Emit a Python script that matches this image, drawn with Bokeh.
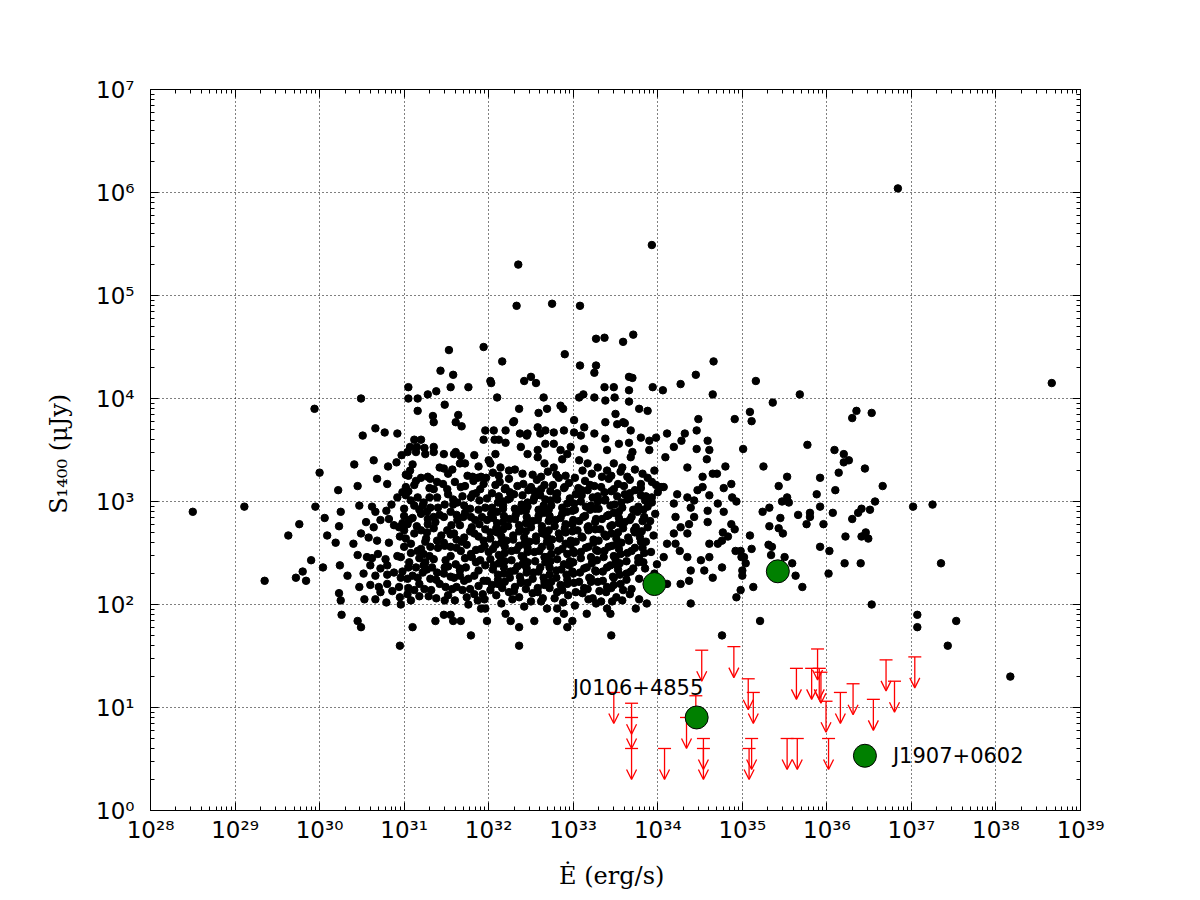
from bokeh.plotting import figure
from bokeh.models import Range1d, LogAxis, FixedTicker, CustomJSTickFormatter
from bokeh.models import ColumnDataSource, Arrow, OpenHead
from bokeh.core.properties import value
from bokeh.embed import file_html
from bokeh.resources import INLINE

# catalogue pulsars as (log10 Edot [erg/s], log10 S1400 [uJy])
left_wing = [
    (28.50, 2.90), (29.11, 2.95), (29.35, 2.23), (29.63, 2.67), (29.76, 2.78), (29.72, 2.26),
    (29.80, 2.32), (29.84, 2.23), (29.90, 2.43), (29.94, 3.90), (30.00, 3.28), (29.95, 2.95),
    (30.04, 2.36), (30.06, 2.84), (30.09, 2.67), (30.19, 2.60), (30.22, 3.11), (30.23, 2.76),
    (30.25, 2.90), (30.24, 2.38), (30.23, 2.11), (30.25, 2.04), (30.26, 1.90), (30.33, 2.28),
    (30.40, 2.59), (30.41, 3.36), (30.45, 3.15), (30.47, 2.96), (30.49, 4.00), (30.51, 3.64),
    (30.45, 1.84), (30.49, 1.78), (30.47, 2.17), (30.53, 2.05), (30.64, 3.40), (30.66, 3.71),
    (30.77, 3.67), (30.92, 3.66), (30.81, 3.34), (30.91, 3.38), (30.68, 3.22), (30.80, 3.17),
    (30.66, 2.90), (30.79, 2.91), (30.82, 2.83), (30.64, 2.75), (30.49, 2.69), (30.58, 2.65),
    (30.45, 2.48), (30.56, 2.46), (30.69, 2.49), (30.60, 2.38), (30.72, 2.35), (30.66, 2.28),
    (30.80, 2.38), (30.88, 2.31), (30.60, 2.19), (30.70, 2.17), (30.80, 2.20), (30.94, 2.17),
    (30.66, 2.05), (30.79, 2.02), (30.96, 2.00), (30.95, 1.60), (31.10, 1.78), (31.37, 1.84),
    (31.08, 2.04), (31.18, 2.08), (31.05, 4.11), (31.05, 4.00), (31.16, 4.00), (31.28, 4.04),
    (31.38, 4.07), (31.16, 3.88), (31.34, 3.83), (31.35, 3.77), (31.12, 3.60), (31.20, 3.60),
    (31.07, 3.53), (31.15, 3.53), (31.24, 3.52), (31.35, 3.53), (30.97, 3.45), (31.07, 3.30),
    (31.05, 3.25), (31.14, 3.20), (31.20, 3.23), (31.31, 3.22), (31.39, 3.19), (31.02, 3.14),
    (30.98, 3.09), (30.92, 3.04), (31.08, 3.01), (31.16, 3.04), (31.23, 2.99), (31.31, 2.94),
    (31.39, 3.04), (31.20, 2.88), (31.27, 2.90), (31.35, 2.85), (30.88, 2.77), (30.94, 2.75),
    (31.00, 2.72), (31.04, 2.78), (31.12, 2.69), (31.20, 2.72), (31.08, 2.59), (31.16, 2.52),
    (31.23, 2.49), (31.31, 2.56), (31.39, 2.62), (31.06, 2.41), (31.14, 2.36), (31.25, 2.41),
    (31.33, 2.36), (31.39, 2.31), (31.04, 2.25), (31.16, 2.26), (31.31, 2.25), (31.18, 2.20),
    (31.29, 2.08), (30.95, 2.07), (31.04, 2.10), (30.62, 2.95), (30.85, 2.97), (31.00, 2.93),
    (31.22, 2.96), (30.55, 2.80), (30.72, 2.82), (30.98, 2.79), (31.10, 2.84), (31.28, 2.78),
    (30.68, 2.62), (30.82, 2.60), (31.02, 2.64), (31.25, 2.61), (30.62, 2.45), (30.78, 2.44),
    (30.92, 2.47), (31.18, 2.45), (31.30, 2.47), (30.52, 2.30), (30.80, 2.29), (30.98, 2.32),
    (31.22, 2.31), (30.72, 2.12), (30.86, 2.13), (31.12, 2.14), (31.24, 2.15),
]

upper_cloud = [
    (31.55, 4.11), (31.76, 4.11), (31.48, 3.94), (31.64, 3.84), (31.61, 3.77), (31.68, 3.73),
    (31.96, 3.69), (31.94, 3.60), (31.47, 3.46), (31.61, 3.48), (31.67, 3.44), (31.83, 3.45),
    (31.72, 3.37), (32.00, 3.40), (31.47, 3.32), (31.57, 3.31), (32.16, 4.36), (32.02, 4.17),
    (32.03, 4.15), (32.42, 4.17), (32.50, 4.21), (32.56, 4.15), (32.90, 4.43), (33.08, 4.32),
    (33.27, 4.32), (33.25, 4.25), (33.27, 4.58), (33.37, 4.59), (33.59, 4.55), (33.71, 4.62),
    (33.37, 4.11), (33.48, 4.11), (33.66, 4.21), (33.66, 4.08), (33.94, 4.11), (34.06, 4.08),
    (34.27, 4.14), (34.45, 4.23), (34.66, 4.36), (34.65, 4.04), (32.35, 5.30), (33.93, 5.49),
    (32.33, 4.90), (32.75, 4.92), (33.08, 4.90), (31.53, 4.47), (31.94, 4.50), (31.43, 4.27),
    (31.58, 4.23), (32.10, 4.01), (32.65, 4.01), (33.12, 4.04), (33.07, 4.01), (33.49, 4.01),
    (33.70, 4.20), (35.16, 4.17), (35.68, 4.04), (32.36, 3.90), (32.59, 3.86), (32.69, 3.90),
    (32.85, 3.93), (32.88, 3.90), (33.25, 4.01), (33.38, 3.98), (33.50, 3.85), (33.59, 3.77),
    (33.66, 3.97), (33.78, 3.90), (33.88, 3.88), (32.06, 3.69), (32.07, 3.60), (32.20, 3.69),
    (32.30, 3.78), (32.45, 3.64), (32.58, 3.72), (32.67, 3.69), (32.77, 3.67), (32.89, 3.69),
    (33.01, 3.79), (33.13, 3.72), (33.25, 3.66), (33.38, 3.61), (33.52, 3.75), (33.61, 3.76),
    (33.68, 3.69), (33.80, 3.62), (33.90, 3.59), (33.98, 3.62), (34.11, 3.66), (34.28, 3.59),
    (34.32, 3.66), (34.46, 3.69), (34.59, 3.59), (34.61, 3.50), (34.48, 3.80), (34.46, 3.51),
    (31.04, 3.48), (31.14, 3.48), (31.25, 3.46), (31.35, 3.48), (31.59, 3.46), (31.81, 3.24),
    (31.91, 3.24), (32.02, 3.37), (32.14, 3.33), (32.24, 3.30), (32.38, 3.53), (32.46, 3.46),
    (32.58, 3.43), (32.66, 3.37), (32.77, 3.33), (32.87, 3.41), (32.93, 3.46), (33.07, 3.40),
    (33.17, 3.37), (33.29, 3.33), (33.40, 3.30), (33.48, 3.37), (33.58, 3.33), (33.68, 3.43),
    (33.80, 3.17), (33.96, 3.30), (34.09, 3.43), (34.19, 3.53), (34.35, 3.33), (34.53, 3.24),
    (34.58, 3.41), (34.70, 3.27), (32.29, 3.77), (32.12, 3.60), (32.20, 3.57), (32.37, 3.66),
    (32.46, 3.66), (32.61, 3.66), (33.01, 3.67), (33.09, 3.64), (33.38, 3.77), (32.08, 3.46),
    (32.58, 3.50), (32.67, 3.56), (32.77, 3.56), (32.85, 3.50), (32.97, 3.53), (33.13, 3.51),
    (33.40, 3.50), (33.54, 3.56), (33.66, 3.57), (33.70, 3.48), (33.90, 3.50),
]

mid_band = [
    (31.60, 3.19), (31.67, 3.14), (31.51, 3.12), (31.82, 3.20), (31.87, 3.23), (31.94, 3.17),
    (31.81, 3.07), (31.63, 2.99), (31.71, 2.96), (31.79, 3.04), (31.89, 3.01), (31.96, 2.94),
    (31.55, 2.90), (31.47, 2.85), (31.63, 2.82), (31.79, 2.85), (31.89, 2.78), (31.98, 2.82),
    (31.51, 2.72), (31.59, 2.69), (31.71, 2.65), (31.83, 2.69), (31.94, 2.62), (31.47, 2.60),
    (31.55, 2.56), (31.67, 2.52), (31.79, 2.49), (31.91, 2.54), (32.00, 2.51), (31.49, 2.43),
    (31.61, 2.39), (31.73, 2.36), (31.85, 2.41), (31.96, 2.38), (31.47, 2.30), (31.59, 2.26),
    (31.71, 2.23), (31.83, 2.28), (31.94, 2.23), (31.49, 2.17), (31.57, 2.15), (31.69, 2.14),
    (31.83, 2.10), (31.93, 2.10), (31.56, 2.77), (31.74, 2.58), (31.66, 2.33), (31.88, 2.92),
]

mid_fill = [
    (31.10, 3.36), (31.42, 3.33), (31.66, 3.37), (31.88, 3.34),
    (31.02, 3.26), (31.28, 3.24), (31.52, 3.27), (31.75, 3.25), (31.97, 3.23),
    (31.12, 3.16), (31.30, 3.13), (31.46, 3.17), (31.72, 3.15), (31.90, 3.12),
    (31.02, 3.06), (31.30, 3.04), (31.52, 3.07), (31.69, 3.05), (31.98, 3.03),
    (31.12, 2.96), (31.40, 2.94), (31.58, 2.97), (31.78, 2.93),
    (31.00, 2.86), (31.28, 2.83), (31.42, 2.87), (31.70, 2.85), (31.84, 2.82),
    (31.15, 2.76), (31.35, 2.74), (31.66, 2.77), (31.80, 2.75), (31.96, 2.73),
    (30.95, 2.66), (31.26, 2.64), (31.44, 2.67), (31.62, 2.63), (31.88, 2.66),
    (31.00, 2.56), (31.20, 2.54), (31.48, 2.57), (31.62, 2.55), (31.85, 2.53),
    (30.96, 2.46), (31.35, 2.44), (31.55, 2.47), (31.72, 2.45), (31.90, 2.43),
    (31.05, 2.36), (31.27, 2.34), (31.52, 2.37), (31.66, 2.35), (31.88, 2.33),
    (30.96, 2.26), (31.38, 2.24), (31.55, 2.27), (31.76, 2.25), (31.98, 2.23),
    (31.05, 2.16), (31.32, 2.14), (31.62, 2.17), (31.78, 2.15),
    (31.38, 2.06), (31.60, 2.04), (31.74, 2.07), (31.95, 2.05),
    (31.05, 3.10), (31.35, 3.12), (31.58, 3.02), (31.85, 3.08), (31.18, 2.92), (31.48, 2.97),
    (31.72, 2.89), (31.06, 2.82), (31.37, 2.80), (31.62, 2.87), (31.92, 2.85), (31.27, 2.70),
    (31.55, 2.68), (31.78, 2.71), (31.08, 2.50), (31.40, 2.55), (31.68, 2.61), (31.95, 2.57),
    (31.23, 2.38), (31.48, 2.36), (31.80, 2.46), (31.10, 2.28), (31.42, 2.20), (31.66, 2.28),
    (31.88, 2.18), (31.52, 2.09), (31.76, 2.00),
]

core = [
    (32.05, 3.28), (32.31, 3.31), (32.52, 3.26), (32.70, 3.29), (32.91, 3.25), (33.11, 3.30),
    (33.34, 3.24), (33.56, 3.29), (33.73, 3.31), (33.88, 3.23),
    (32.13, 3.19), (32.24, 3.22), (32.41, 3.17), (32.57, 3.21), (32.66, 3.16), (32.83, 3.23),
    (32.95, 3.18), (33.14, 3.20), (33.25, 3.15), (33.42, 3.22), (33.53, 3.17), (33.67, 3.21),
    (33.93, 3.19), (34.04, 3.14),
    (32.04, 3.08), (32.19, 3.12), (32.30, 3.07), (32.47, 3.11), (32.61, 3.06), (32.73, 3.10),
    (32.89, 3.13), (33.03, 3.07), (33.17, 3.11), (33.29, 3.05), (33.45, 3.10), (33.61, 3.07),
    (33.73, 3.11), (33.86, 3.05), (34.00, 3.09),
    (32.11, 2.99), (32.23, 3.02), (32.39, 2.97), (32.53, 3.01), (32.65, 2.96), (32.81, 3.02),
    (32.93, 2.98), (33.09, 3.00), (33.21, 2.96), (33.37, 3.01), (33.49, 2.97), (33.64, 3.02),
    (33.77, 2.95), (33.93, 2.99),
    (32.03, 2.88), (32.17, 2.93), (32.32, 2.87), (32.44, 2.91), (32.59, 2.86), (32.71, 2.92),
    (32.87, 2.88), (32.99, 2.91), (33.14, 2.86), (33.26, 2.93), (33.42, 2.87), (33.54, 2.90),
    (33.69, 2.85), (33.83, 2.92), (33.97, 2.88),
    (32.10, 2.79), (32.25, 2.83), (32.36, 2.77), (32.52, 2.81), (32.63, 2.76), (32.79, 2.82),
    (32.91, 2.78), (33.07, 2.81), (33.18, 2.76), (33.34, 2.83), (33.46, 2.77), (33.61, 2.80),
    (33.74, 2.75), (33.91, 2.81),
    (32.02, 2.70), (32.17, 2.73), (32.29, 2.67), (32.44, 2.71), (32.56, 2.66), (32.71, 2.72),
    (32.83, 2.69), (32.99, 2.71), (33.10, 2.66), (33.26, 2.73), (33.37, 2.68), (33.53, 2.70),
    (33.65, 2.65), (33.81, 2.71), (33.95, 2.67),
    (32.08, 2.58), (32.21, 2.62), (32.36, 2.57), (32.48, 2.61), (32.63, 2.56), (32.75, 2.63),
    (32.91, 2.59), (33.03, 2.61), (33.18, 2.56), (33.30, 2.62), (33.46, 2.57), (33.57, 2.60),
    (33.73, 2.55), (33.86, 2.61),
    (32.12, 2.48), (32.27, 2.52), (32.39, 2.47), (32.54, 2.51), (32.66, 2.46), (32.82, 2.52),
    (32.93, 2.49), (33.09, 2.51), (33.21, 2.46), (33.37, 2.52), (33.48, 2.47), (33.64, 2.50),
    (33.77, 2.45), (33.92, 2.51),
    (32.06, 2.38), (32.19, 2.42), (32.34, 2.37), (32.46, 2.41), (32.61, 2.36), (32.73, 2.42),
    (32.89, 2.39), (33.00, 2.41), (33.16, 2.36), (33.28, 2.43), (33.44, 2.38), (33.55, 2.40),
    (33.71, 2.35), (33.83, 2.41),
    (32.11, 2.29), (32.26, 2.32), (32.37, 2.27), (32.53, 2.31), (32.65, 2.26), (32.80, 2.33),
    (32.92, 2.29), (33.08, 2.31), (33.19, 2.26), (33.35, 2.32), (33.47, 2.27), (33.63, 2.30),
    (33.78, 2.25),
    (32.04, 2.19), (32.19, 2.22), (32.31, 2.17), (32.46, 2.21), (32.58, 2.16), (32.74, 2.22),
    (32.85, 2.19), (33.01, 2.21), (33.13, 2.16), (33.29, 2.22), (33.40, 2.17), (33.56, 2.20),
    (33.69, 2.15),
    (32.09, 2.09), (32.24, 2.12), (32.36, 2.07), (32.52, 2.11), (32.64, 2.06), (32.81, 2.12),
    (32.94, 2.09), (33.11, 2.11), (33.23, 2.06), (33.39, 2.12), (33.51, 2.07), (33.67, 2.10),
    (32.15, 2.01), (32.42, 1.98), (32.62, 2.03), (33.02, 1.99), (33.33, 2.03), (33.78, 2.05),
]

core_fill = [
    (32.12, 3.25), (32.40, 3.27), (32.62, 3.24), (32.80, 3.26), (33.02, 3.23), (33.22, 3.27),
    (33.45, 3.25), (33.64, 3.24), (33.82, 3.27),
    (32.08, 3.16), (32.20, 3.13), (32.34, 3.15), (32.50, 3.14), (32.62, 3.12), (32.76, 3.16),
    (32.90, 3.14), (33.06, 3.13), (33.20, 3.16), (33.33, 3.14), (33.48, 3.12), (33.60, 3.15),
    (33.80, 3.13), (33.98, 3.16),
    (32.12, 3.05), (32.25, 3.03), (32.40, 3.06), (32.54, 3.04), (32.67, 3.02), (32.80, 3.05),
    (32.96, 3.03), (33.10, 3.06), (33.23, 3.04), (33.38, 3.02), (33.52, 3.05), (33.67, 3.03),
    (33.80, 3.06), (33.93, 3.04),
    (32.04, 2.94), (32.17, 2.96), (32.31, 2.93), (32.46, 2.95), (32.59, 2.92), (32.74, 2.96),
    (32.87, 2.94), (33.02, 2.92), (33.15, 2.95), (33.30, 2.93), (33.44, 2.96), (33.58, 2.94),
    (33.71, 2.92), (33.88, 2.95),
    (32.05, 2.84), (32.18, 2.86), (32.31, 2.83), (32.45, 2.85), (32.58, 2.82), (32.72, 2.86),
    (32.85, 2.84), (33.00, 2.82), (33.12, 2.85), (33.27, 2.83), (33.40, 2.86), (33.54, 2.84),
    (33.67, 2.82), (33.84, 2.85),
    (32.09, 2.74), (32.23, 2.76), (32.37, 2.73), (32.50, 2.75), (32.63, 2.72), (32.78, 2.76),
    (32.90, 2.74), (33.05, 2.72), (33.17, 2.75), (33.32, 2.73), (33.44, 2.76), (33.59, 2.74),
    (33.72, 2.72), (33.88, 2.75),
    (32.02, 2.64), (32.15, 2.66), (32.29, 2.63), (32.42, 2.65), (32.56, 2.62), (32.69, 2.66),
    (32.84, 2.64), (32.97, 2.62), (33.11, 2.65), (33.24, 2.63), (33.39, 2.66), (33.51, 2.64),
    (33.66, 2.62), (33.79, 2.65),
    (32.05, 2.54), (32.19, 2.56), (32.33, 2.53), (32.46, 2.55), (32.60, 2.52), (32.73, 2.56),
    (32.87, 2.54), (33.00, 2.52), (33.15, 2.55), (33.27, 2.53), (33.42, 2.56), (33.54, 2.54),
    (33.69, 2.52), (33.82, 2.55),
    (32.02, 2.44), (32.14, 2.46), (32.27, 2.43), (32.41, 2.45), (32.55, 2.42), (32.68, 2.46),
    (32.81, 2.44), (32.96, 2.42), (33.09, 2.45), (33.23, 2.43), (33.36, 2.46), (33.50, 2.44),
    (33.63, 2.42), (33.78, 2.45),
    (32.05, 2.34), (32.18, 2.36), (32.31, 2.33), (32.45, 2.35), (32.59, 2.32), (32.72, 2.36),
    (32.86, 2.34), (32.99, 2.32), (33.13, 2.35), (33.26, 2.33), (33.40, 2.36), (33.53, 2.34),
    (33.68, 2.32), (33.85, 2.35),
    (32.11, 2.24), (32.25, 2.26), (32.38, 2.23), (32.52, 2.25), (32.66, 2.22), (32.80, 2.26),
    (32.93, 2.24), (33.07, 2.22), (33.21, 2.25), (33.35, 2.23), (33.48, 2.26), (33.63, 2.24),
    (32.02, 2.14), (32.16, 2.16), (32.30, 2.13), (32.44, 2.15), (32.58, 2.12), (32.72, 2.16),
    (32.87, 2.14), (33.03, 2.12), (33.17, 2.15), (33.31, 2.13), (33.45, 2.16), (33.59, 2.14),
    (32.28, 2.05), (32.50, 2.03), (32.78, 2.06), (32.88, 2.02), (33.18, 2.05), (33.46, 2.03),
]

core_extra = [
    (32.25, 3.09), (32.54, 3.10), (32.81, 3.08), (33.10, 3.11), (33.37, 3.09), (33.67, 3.08),
    (32.17, 3.00), (32.46, 2.99), (32.73, 3.01), (33.01, 2.98), (33.29, 3.00), (33.57, 2.99),
    (33.85, 3.01),
    (32.10, 2.90), (32.38, 2.91), (32.65, 2.89), (32.93, 2.90), (33.20, 2.92), (33.48, 2.89),
    (33.76, 2.90),
    (32.17, 2.80), (32.44, 2.79), (32.71, 2.81), (32.99, 2.78), (33.26, 2.80), (33.54, 2.79),
    (33.82, 2.81),
    (32.10, 2.70), (32.36, 2.71), (32.64, 2.69), (32.91, 2.70), (33.18, 2.72), (33.45, 2.69),
    (33.73, 2.70),
    (32.15, 2.60), (32.42, 2.59), (32.69, 2.61), (32.97, 2.58), (33.24, 2.60), (33.52, 2.59),
    (33.80, 2.61),
    (32.19, 2.50), (32.46, 2.51), (32.74, 2.49), (33.01, 2.50), (33.29, 2.52), (33.56, 2.49),
    (33.84, 2.50),
    (32.12, 2.40), (32.40, 2.39), (32.67, 2.41), (32.95, 2.38), (33.22, 2.40), (33.50, 2.39),
    (33.77, 2.41),
    (32.18, 2.30), (32.45, 2.31), (32.72, 2.29), (33.00, 2.30), (33.27, 2.32), (33.55, 2.29),
    (32.11, 2.20), (32.38, 2.21), (32.66, 2.19), (32.93, 2.20), (33.21, 2.22), (33.48, 2.19),
]

lower_tail = [
    (31.96, 1.96), (32.20, 1.91), (32.26, 1.84), (32.36, 1.78), (32.36, 1.60), (32.54, 1.84),
    (32.69, 1.96), (32.81, 1.96), (32.89, 1.91), (32.81, 1.84), (32.93, 1.78), (32.99, 1.84),
    (33.27, 2.01), (33.16, 1.91), (33.40, 1.96), (33.44, 1.91), (33.45, 1.70), (33.58, 2.04),
    (33.74, 1.96), (33.87, 2.01), (34.39, 2.01), (31.47, 1.90), (31.55, 1.90), (31.58, 1.84),
    (31.67, 1.84), (31.79, 1.70), (31.98, 1.84), (31.91, 1.96), (31.87, 2.04), (31.48, 2.04),
]

right_wing = [
    (34.11, 2.20), (34.27, 2.20), (34.37, 2.23), (34.39, 2.33), (34.55, 2.33), (34.65, 2.26),
    (34.51, 2.43), (34.61, 2.46), (34.71, 2.59), (34.61, 2.59), (34.35, 2.46), (34.26, 2.52),
    (34.21, 2.59), (34.19, 2.69), (34.35, 2.69), (34.37, 2.78), (34.39, 2.94), (34.59, 2.80),
    (34.59, 2.91), (34.71, 2.98), (34.61, 3.06), (34.53, 3.14), (34.19, 2.98), (34.21, 2.85),
    (34.11, 2.59), (34.07, 2.46), (33.99, 2.39), (33.96, 2.30), (34.07, 3.14), (34.23, 3.07),
    (34.35, 3.04), (34.47, 3.11), (34.65, 3.27), (34.43, 3.01), (34.43, 2.85), (34.27, 2.75),
    (35.36, 3.96), (34.91, 3.80), (35.09, 3.87), (35.11, 3.78), (36.30, 3.81), (36.35, 3.88),
    (36.53, 3.86), (35.01, 3.51), (35.77, 3.55), (36.09, 3.50), (36.20, 3.46), (36.20, 3.38),
    (36.26, 3.40), (35.25, 3.34), (34.80, 3.34), (36.45, 3.32), (36.14, 3.28), (35.53, 3.24),
    (35.92, 3.23), (36.66, 3.15), (36.10, 3.11), (35.43, 3.15), (35.88, 3.07), (34.87, 3.17),
    (34.78, 3.13), (34.88, 3.04), (34.93, 3.00), (35.47, 3.00), (35.53, 3.04), (35.55, 2.99),
    (35.32, 2.94), (35.24, 2.90), (35.92, 2.95), (36.57, 3.00), (36.51, 2.92), (36.37, 2.89),
    (36.41, 2.93), (37.02, 2.95), (37.25, 2.97), (34.78, 2.90), (35.45, 2.84), (35.66, 2.87),
    (35.80, 2.89), (35.80, 2.85), (35.76, 2.78), (35.96, 2.78), (36.07, 2.89), (36.30, 2.83),
    (35.32, 2.76), (35.43, 2.74), (35.48, 2.69), (35.09, 2.67), (34.87, 2.78), (34.91, 2.73),
    (34.77, 2.70), (34.83, 2.66), (34.76, 2.62), (36.22, 2.66), (36.41, 2.66), (36.46, 2.70),
    (36.49, 2.64), (35.31, 2.58), (35.35, 2.56), (35.11, 2.54), (34.92, 2.52), (34.98, 2.52),
    (34.99, 2.46), (35.02, 2.46), (35.04, 2.40), (35.00, 2.33), (35.00, 2.28), (35.34, 2.48),
    (35.50, 2.46), (35.59, 2.40), (35.63, 2.28), (35.71, 2.17), (35.13, 2.17), (34.98, 2.14),
    (34.93, 2.07), (35.92, 2.56), (36.03, 2.52), (36.02, 2.30), (36.21, 2.40), (36.40, 2.40),
    (37.35, 2.40), (36.53, 2.00), (35.21, 1.84), (37.07, 1.90), (37.07, 1.78), (37.53, 1.84),
    (34.76, 2.36), (34.76, 1.70), (37.43, 1.60), (38.17, 1.30), (36.84, 6.04), (38.66, 4.15),
]

# non-detections: upper limits on S1400 (uJy)
limit_edot_log = [33.48, 33.69, 33.69, 33.69, 34.08, 34.34, 34.45, 34.52, 34.54, 34.54,
                  34.90, 35.07, 35.13, 35.08, 35.11, 35.53, 35.65, 35.64, 35.82, 35.89,
                  35.91, 35.93, 35.99, 36.02, 36.16, 36.31, 36.55, 36.70, 36.80, 37.04]
limit_s1400 = [14, 11, 8, 4, 4, 8, 13, 36, 5, 4,
               39, 19, 14, 4, 5, 5, 5, 24, 24, 37,
               24, 22, 11.5, 5, 14, 17, 12, 29, 18, 31]

# detections
det_edot_log = [33.96, 35.42, 34.46, 36.45]
det_s1400 = [158, 210, 8.0, 3.4]

pts = (left_wing + upper_cloud + mid_band + mid_fill + core + core_fill + core_extra
       + lower_tail + right_wing)
edot = [10.0 ** e for e, s in pts]
s1400 = [10.0 ** s for e, s in pts]

p = figure(width=1192, height=892, title=None,
           x_axis_type="log", y_axis_type="log",
           x_range=Range1d(1e28, 1e39), y_range=Range1d(1, 1e7),
           output_backend="svg", toolbar_location=None,
           min_border_left=150, min_border_right=112,
           min_border_top=89, min_border_bottom=82)
p.background_fill_color = "white"
p.border_fill_color = "white"
p.outline_line_color = "black"

x_ticks = FixedTicker(ticks=[10.0 ** k for k in range(28, 40)],
                      minor_ticks=[m * 10.0 ** k for k in range(28, 39) for m in range(2, 10)])
y_ticks = FixedTicker(ticks=[10.0 ** k for k in range(0, 8)],
                      minor_ticks=[m * 10.0 ** k for k in range(0, 7) for m in range(2, 10)])

power = CustomJSTickFormatter(code="""
const sup = "\u2070\u00b9\u00b2\u00b3\u2074\u2075\u2076\u2077\u2078\u2079";
const e = Math.round(Math.log10(tick));
return "10" + String(e).split("").map(c => sup[+c]).join("");
""")
blank = CustomJSTickFormatter(code="return '';")

top = LogAxis()
right = LogAxis()
p.add_layout(top, "above")
p.add_layout(right, "right")

for ax, ticker in ((p.below[0], x_ticks), (top, x_ticks), (p.left[0], y_ticks), (right, y_ticks)):
    ax.ticker = ticker
    ax.major_tick_in = 8
    ax.major_tick_out = 0
    ax.minor_tick_in = 4
    ax.minor_tick_out = 0
    ax.axis_line_color = "black"
    ax.major_tick_line_color = "black"
    ax.minor_tick_line_color = "black"
    ax.major_label_text_font = "DejaVu Sans"
    ax.major_label_text_font_size = "23px"
    ax.major_label_text_color = "black"

top.formatter = blank
right.formatter = blank
p.below[0].formatter = power
p.left[0].formatter = power
p.below[0].major_label_standoff = 6
p.left[0].major_label_standoff = 16

p.below[0].axis_label = "\u0116  (erg/s)"
p.left[0].axis_label = "S\u2081\u2084\u2080\u2080  (\u03bcJy)"
for ax in (p.below[0], p.left[0]):
    ax.axis_label_text_font = "DejaVu Serif"
    ax.axis_label_text_font_size = "24px"
    ax.axis_label_text_font_style = "normal"
    ax.axis_label_text_color = "black"
p.below[0].axis_label_standoff = 16
p.left[0].axis_label_standoff = 20

for g in (p.xgrid, p.ygrid):
    g.grid_line_color = "black"
    g.grid_line_alpha = 1.0
    g.grid_line_dash = "1 3"
    g.grid_line_width = 1

p.scatter(edot, s1400, size=7.5, fill_color="black", line_color="black")

lim_src = ColumnDataSource(dict(
    x=[10.0 ** e for e in limit_edot_log],
    top=limit_s1400,
    bottom=[s * 0.5 for s in limit_s1400],
))
p.add_layout(Arrow(end=OpenHead(size=10, line_color="red", line_width=1.3),
                   x_start="x", y_start="top", x_end="x", y_end="bottom",
                   source=lim_src, line_color="red", line_width=1.3, level="underlay"))
p.scatter("x", "top", source=lim_src, marker="dash", size=13,
          line_color="red", line_width=1.3)

det_x = [10.0 ** e for e in det_edot_log]
p.scatter(det_x, det_s1400, size=23, fill_color="green", line_color="black", line_width=1)

p.text([det_x[2]], [det_s1400[2]], text=["J0106+4855"], x_offset=-124, y_offset=-29,
       text_font=value("DejaVu Sans"), text_font_size="21px", text_color="black",
       text_align="left", text_baseline="middle")
p.text([det_x[3]], [det_s1400[3]], text=["J1907+0602"], x_offset=28, y_offset=0,
       text_font=value("DejaVu Sans"), text_font_size="21px", text_color="black",
       text_align="left", text_baseline="middle")

open("out.html", "w").write(file_html(p, INLINE))
